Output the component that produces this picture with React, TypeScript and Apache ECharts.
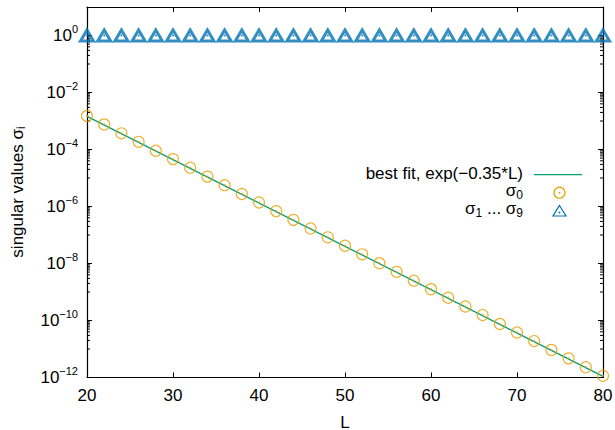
import React, { useEffect, useRef } from 'react';
import * as echarts from 'echarts';

// ---- data ----
const L_VALUES = [20, 22, 24, 26, 28, 30, 32, 34, 36, 38, 40, 42, 44, 46, 48, 50, 52, 54, 56, 58, 60, 62, 64, 66, 68, 70, 72, 74, 76, 78, 80];
const SIGMA0 = [1.51e-3, 7.6e-4, 3.7e-4, 1.86e-4, 9.1e-5, 4.6e-5, 2.3e-5, 1.12e-5, 5.6e-6, 2.75e-6, 1.38e-6, 6.9e-7, 3.4e-7, 1.7e-7, 8.3e-8, 4.2e-8, 2.1e-8, 1.03e-8, 5.1e-9, 2.5e-9, 1.26e-9, 6.3e-10, 3.1e-10, 1.55e-10, 7.6e-11, 3.8e-11, 1.9e-11, 9.3e-12, 4.7e-12, 2.3e-12, 1.15e-12];
const SIGMA_REST = [1, 1, 1, 1, 1, 1, 1, 1, 1, 1, 1, 1, 1, 1, 1, 1, 1, 1, 1, 1, 1, 1, 1, 1, 1, 1, 1, 1, 1, 1, 1];
const FIT_L = [20, 80];
const FIT_VALUES = [1.46e-3, 1.1e-12];

// axis definitions
const X_MIN = 20;
const X_MAX = 80;
const X_STEP = 10;
const Y_MIN_EXP = -12;
const Y_MAX_EXP = 1;
const Y_LABEL_STEP = 2;
const MINOR_TICK_DECADES = [-11, -9, -7, -5, -3, -1];
const MINOR_TICK_FACTORS = [1, 2, 3, 4, 5, 6, 7, 8, 9];

const LEGEND_FIT = 'best fit, exp(−0.35*L)';
const X_TITLE = 'L';

const FONT = '"Liberation Sans", Arial, Helvetica, sans-serif';
const C_FIT = '#009E73';
const C_S0 = '#E69F00';
const C_REST = '#0072B2';

export default function App() {
  const ref = useRef<HTMLDivElement>(null);

  useEffect(() => {
    if (!ref.current) return;
    const chart = echarts.init(ref.current, null, { renderer: 'svg' });

    const minorTicks: number[][] = [];
    MINOR_TICK_DECADES.forEach((e) =>
      MINOR_TICK_FACTORS.forEach((k) => minorTicks.push([X_MIN, e + Math.log10(k)]))
    );

    const axisLineStyle = { color: '#000', width: 1.2 };
    const commonX = {
      type: 'value',
      min: X_MIN,
      max: X_MAX,
      interval: X_STEP,
      splitLine: { show: false },
      axisLine: { show: true, onZero: false, lineStyle: axisLineStyle },
      axisTick: { show: true, inside: true, length: 5, lineStyle: { color: '#000', width: 1 } },
    };
    const commonY = {
      type: 'value',
      min: Y_MIN_EXP,
      max: Y_MAX_EXP,
      interval: Y_LABEL_STEP,
      splitLine: { show: false },
      axisLine: { show: true, onZero: false, lineStyle: axisLineStyle },
      axisTick: { show: true, inside: true, length: 5, lineStyle: { color: '#000', width: 1 } },
    };

    const subRich = {
      m: { fontSize: 17, lineHeight: 20, fontFamily: FONT, fill: '#000', verticalAlign: 'middle' },
      s: { fontSize: 12, lineHeight: 12, fontFamily: FONT, fill: '#000', verticalAlign: 'bottom' },
    };

    const option: any = {
      animation: false,
      grid: { left: 87, right: 12, top: 7, bottom: 52.5, containLabel: false, outerBoundsMode: 'none' },
      xAxis: [
        {
          ...commonX,
          position: 'bottom',
          axisLabel: { color: '#000', fontSize: 17, fontFamily: FONT, margin: 9 },
        },
        { ...commonX, position: 'top', axisLabel: { show: false } },
      ],
      yAxis: [
        {
          ...commonY,
          position: 'left',
          axisLabel: {
            show: true,
            margin: 9,
            showMinLabel: true,
            showMaxLabel: false,
            formatter: (v: number) => {
              const r = Math.round(v);
              if (r % 2 !== 0 || r > 0) return '';
              const exp = r === 0 ? '0' : '−' + String(-r);
              return '{b|10}{s|' + exp + '}';
            },
            rich: {
              b: { fontSize: 17, lineHeight: 24, fontFamily: FONT, color: '#000', verticalAlign: 'middle' },
              s: { fontSize: 11, lineHeight: 12, fontFamily: FONT, color: '#000', verticalAlign: 'top' },
            },
          },
        },
        { ...commonY, position: 'right', axisLabel: { show: false } },
      ],
      series: [
        {
          type: 'custom',
          silent: true,
          xAxisIndex: 0,
          yAxisIndex: 0,
          data: minorTicks,
          clip: false,
          renderItem: (params: any, api: any) => {
            const p = api.coord([api.value(0), api.value(1)]);
            const cs = params.coordSys;
            return {
              type: 'group',
              children: [
                { type: 'line', shape: { x1: cs.x, y1: p[1], x2: cs.x + 3, y2: p[1] }, style: { stroke: '#000', lineWidth: 1 } },
                { type: 'line', shape: { x1: cs.x + cs.width, y1: p[1], x2: cs.x + cs.width - 3, y2: p[1] }, style: { stroke: '#000', lineWidth: 1 } },
              ],
            };
          },
        },
        {
          name: LEGEND_FIT,
          type: 'line',
          silent: true,
          showSymbol: false,
          data: FIT_L.map((l, i) => [l, Math.log10(FIT_VALUES[i])]),
          lineStyle: { color: C_FIT, width: 1.3 },
          z: 2,
        },
        {
          name: 'sigma0',
          type: 'scatter',
          silent: true,
          symbol: 'circle',
          symbolSize: 11,
          data: L_VALUES.map((l, i) => [l, Math.log10(SIGMA0[i])]),
          itemStyle: { color: 'transparent', borderColor: C_S0, borderWidth: 1.2 },
          z: 3,
        },
        {
          type: 'scatter',
          silent: true,
          symbol: 'circle',
          symbolSize: 2,
          data: L_VALUES.map((l, i) => [l, Math.log10(SIGMA0[i])]),
          itemStyle: { color: C_S0 },
          z: 3,
        },
        {
          name: 'sigmaRest',
          type: 'scatter',
          silent: true,
          symbol: 'triangle',
          symbolSize: [13, 11],
          data: L_VALUES.map((l, i) => [l, Math.log10(SIGMA_REST[i])]),
          itemStyle: { color: 'transparent', borderColor: C_REST, borderWidth: 3 },
          z: 4,
        },
        {
          type: 'scatter',
          silent: true,
          symbol: 'circle',
          symbolSize: 2,
          data: L_VALUES.map((l, i) => [l, Math.log10(SIGMA_REST[i])]),
          itemStyle: { color: C_REST },
          z: 4,
        },
      ],
      graphic: [
        {
          type: 'text',
          x: 17,
          y: 192,
          rotation: Math.PI / 2,
          style: {
            text: '{m|singular values σ}{s|i}',
            align: 'center',
            verticalAlign: 'middle',
            rich: subRich,
          },
        },
        {
          type: 'text',
          x: 345,
          y: 422,
          style: { text: X_TITLE, fontSize: 17, fontFamily: FONT, fill: '#000', align: 'center', verticalAlign: 'middle' },
        },
        {
          type: 'text',
          x: 523,
          y: 173,
          style: { text: LEGEND_FIT, fontSize: 17, lineHeight: 14, fontFamily: FONT, fill: '#000', align: 'right', verticalAlign: 'middle' },
        },
        {
          type: 'text',
          x: 523,
          y: 190.5,
          style: { text: '{m|σ}{s|0}', align: 'right', verticalAlign: 'middle', rich: subRich },
        },
        {
          type: 'text',
          x: 523,
          y: 208.5,
          style: { text: '{m|σ}{s|1}{m| ... σ}{s|9}', align: 'right', verticalAlign: 'middle', rich: subRich },
        },
        {
          type: 'line',
          shape: { x1: 534, y1: 174.7, x2: 582, y2: 174.7 },
          style: { stroke: C_FIT, lineWidth: 1.3 },
        },
        {
          type: 'circle',
          shape: { cx: 559.5, cy: 192.7, r: 5.5 },
          style: { fill: 'none', stroke: C_S0, lineWidth: 1.2 },
        },
        {
          type: 'circle',
          shape: { cx: 559.5, cy: 192.7, r: 0.9 },
          style: { fill: C_S0 },
        },
        {
          type: 'polygon',
          shape: { points: [[559.5, 205.5], [566, 216], [553, 216]] },
          style: { fill: 'none', stroke: C_REST, lineWidth: 1.2 },
        },
        {
          type: 'circle',
          shape: { cx: 559.5, cy: 212.5, r: 0.9 },
          style: { fill: C_REST },
        },
      ],
    };

    chart.setOption(option);
    return () => chart.dispose();
  }, []);

  return (
    <div
      ref={ref}
      style={{ position: 'fixed', left: 0, top: 0, width: 615, height: 430, background: '#fff' }}
    />
  );
}
